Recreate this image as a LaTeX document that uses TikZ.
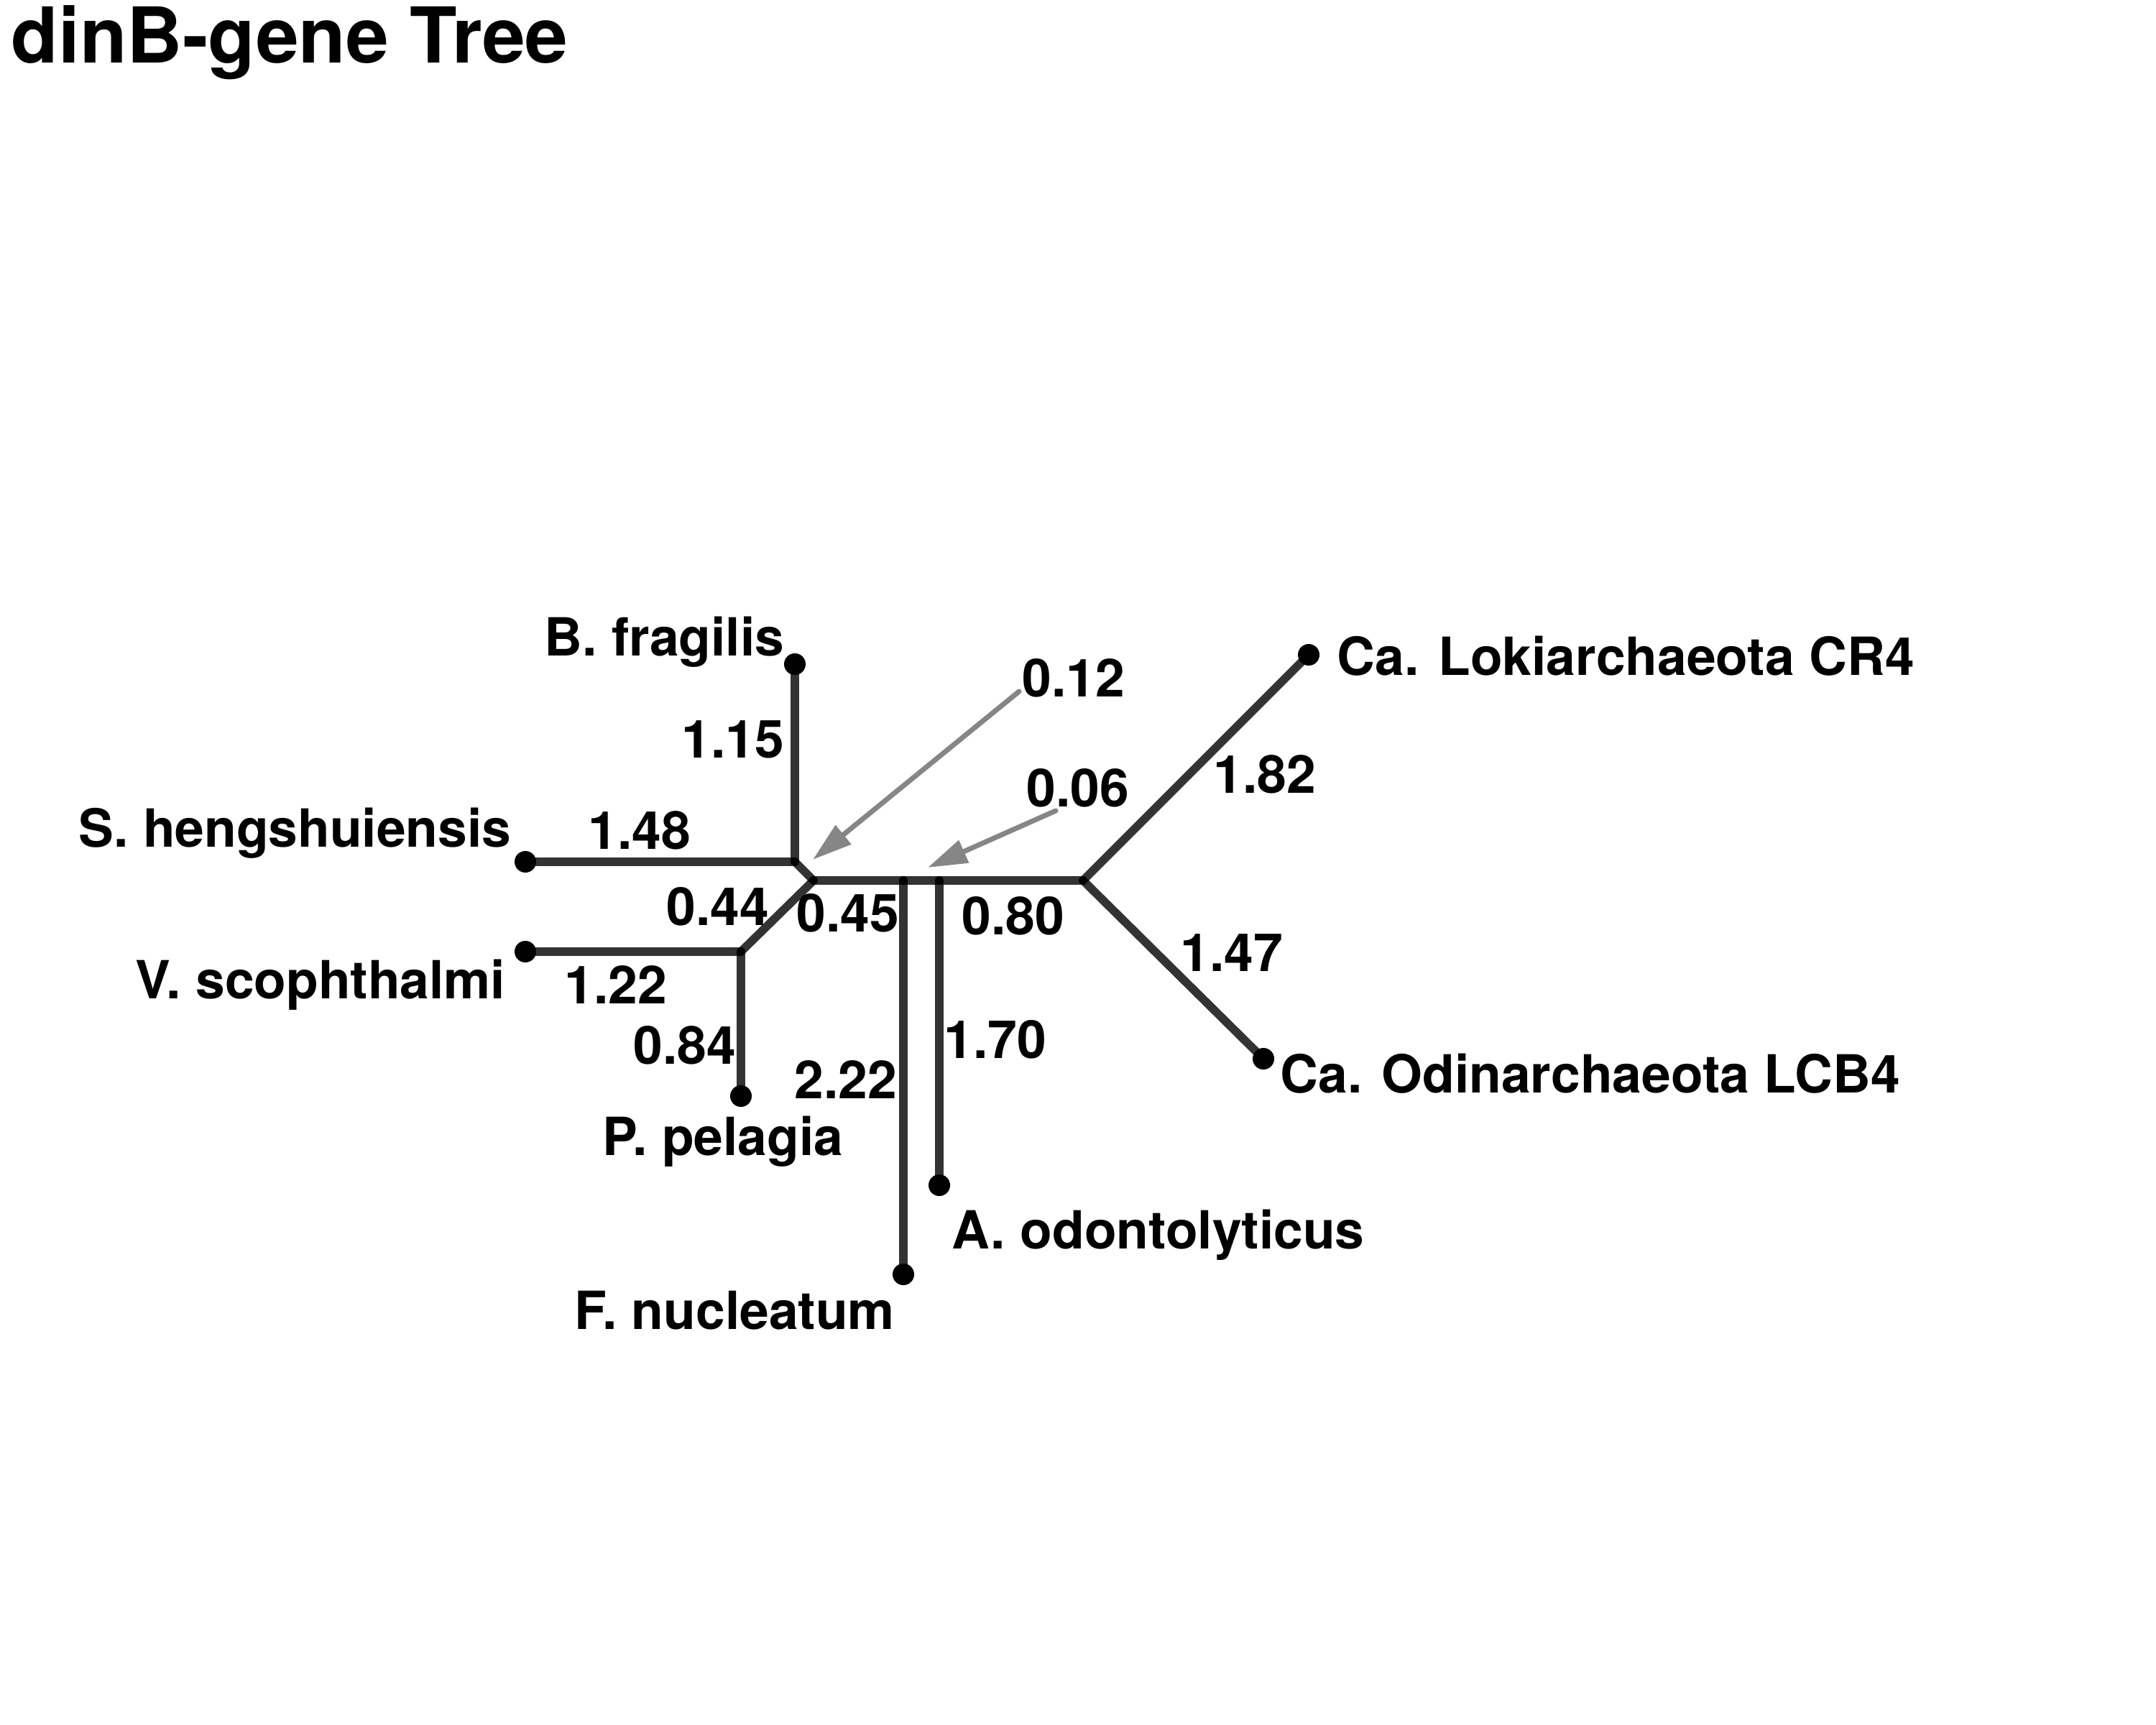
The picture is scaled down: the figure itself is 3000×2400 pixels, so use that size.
\documentclass[tikz,border=0pt]{standalone}
\usepackage{fontspec}
\setmainfont{TeX Gyre Heros}
\usetikzlibrary{arrows.meta}
\definecolor{arrowgray}{HTML}{868686}
\begin{document}
\begin{tikzpicture}[x=0.01cm,y=-0.01cm,
  branch/.style={line width=3.3pt, draw=black, draw opacity=0.8, line cap=round},
  leaf/.style={circle, fill=black, inner sep=0pt, minimum size=0.3cm},
  blen/.style={font=\fontsize{20.8}{21}\selectfont\bfseries, inner sep=0pt},
  taxon/.style={font=\fontsize{20.8}{21}\selectfont\bfseries, inner sep=0pt},
  pointer/.style={draw=arrowgray, line width=2pt, line cap=round, -{Triangle[length=0.55cm,width=0.33cm]}}]
\path[use as bounding box] (0,0) rectangle (3000,2400);

% title
\node[anchor=west, inner sep=0pt, font=\fontsize{30.5}{31}\selectfont\bfseries] (title) at (15,59) {dinB-gene Tree};

% internal junctions
\coordinate (jA) at (1106,1199);
\coordinate (jB) at (1132,1225);
\coordinate (jC) at (1031,1324);
\coordinate (jF) at (1257,1225);
\coordinate (jO) at (1307,1225);
\coordinate (jD) at (1507,1225);

% leaves
\node[leaf] (bfra) at (1106,924) {};
\node[leaf] (shen) at (731,1199) {};
\node[leaf] (vsco) at (731,1324) {};
\node[leaf] (ppel) at (1031,1525) {};
\node[leaf] (fnuc) at (1257,1773) {};
\node[leaf] (aodo) at (1307,1649) {};
\node[leaf] (loki) at (1821,911) {};
\node[leaf] (odin) at (1758,1473) {};

% branches
\draw[branch] (jA) -- (bfra.center);
\draw[branch] (jA) -- (shen.center);
\draw[branch] (jA) -- (jB);
\draw[branch] (jB) -- (jC);
\draw[branch] (jC) -- (vsco.center);
\draw[branch] (jC) -- (ppel.center);
\draw[branch] (jB) -- (jF);
\draw[branch] (jF) -- (jO);
\draw[branch] (jO) -- (jD);
\draw[branch] (jF) -- (fnuc.center);
\draw[branch] (jO) -- (aodo.center);
\draw[branch] (jD) -- (loki.center);
\draw[branch] (jD) -- (odin.center);

% taxon labels
\node[taxon, anchor=east] (tbfra) at (1092,893) {B. fragilis};
\node[taxon, anchor=east] (tshen) at (712,1159) {S. hengshuiensis};
\node[taxon, anchor=east] (tvsco) at (704,1370) {V. scophthalmi};
\node[taxon] (tppel) at (1006,1588) {P. pelagia};
\node[taxon] (tfnuc) at (1022,1823) {F. nucleatum};
\node[taxon, anchor=west] (taodo) at (1324,1718) {A. odontolyticus};
\node[taxon, anchor=west] (tloki) at (1860,913) {Ca. Lokiarchaeota CR4};
\node[taxon, anchor=west] (todin) at (1781,1494) {Ca. Odinarchaeota LCB4};

% branch lengths
\node[blen] (l115) at (1020,1029) {1.15};
\node[blen] (l148) at (890,1155) {1.48};
\node[blen] (l044) at (999,1261) {0.44};
\node[blen] (l045) at (1180,1270) {0.45};
\node[blen] (l080) at (1410,1274) {0.80};
\node[blen] (l122) at (857,1370) {1.22};
\node[blen] (l084) at (953,1454) {0.84};
\node[blen] (l222) at (1177,1502) {2.22};
\node[blen] (l170) at (1385,1446) {1.70};
\node[blen] (l012) at (1494,943) {0.12};
\node[blen] (l006) at (1500,1096) {0.06};
\node[blen] (l182) at (1760,1077) {1.82};
\node[blen] (l147) at (1714,1326) {1.47};

% pointers for short branches
\coordinate (p012s) at (1418,962);
\coordinate (p012e) at (1131,1196);
\coordinate (p006s) at (1469,1128);
\coordinate (p006e) at (1291,1207);
\draw[pointer] (p012s) -- (p012e);
\draw[pointer] (p006s) -- (p006e);
\end{tikzpicture}
\end{document}
